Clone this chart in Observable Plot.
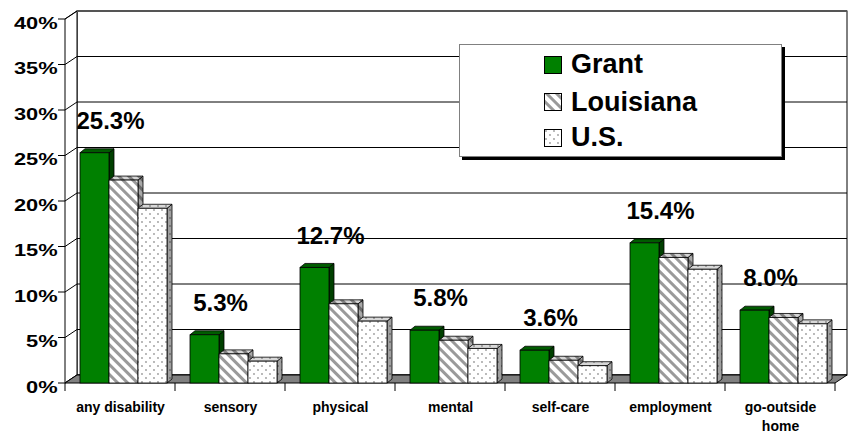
<!DOCTYPE html>
<html><head><meta charset="utf-8">
<script src="https://cdn.jsdelivr.net/npm/d3@7"></script>
<script src="https://cdn.jsdelivr.net/npm/@observablehq/plot@0.6"></script>
<style>
body{margin:0;background:#fff;font-family:Arial,"Liberation Sans",sans-serif;}
#wrap{position:relative;width:853px;height:433px;overflow:hidden;}
#legend{position:absolute;left:459px;top:44px;width:321px;height:111px;border:1px solid #808080;box-shadow:3px 3px 0 #000;background:#fff;}
.row{position:absolute;left:84px;height:30px;display:flex;align-items:center;font-weight:bold;font-size:27px;color:#000;white-space:nowrap;}
.row svg{margin-right:9px;flex:none;}
</style></head><body>
<svg width="0" height="0" style="position:absolute"><defs>
<pattern id="stripes" width="7" height="7" patternUnits="userSpaceOnUse" patternTransform="rotate(-45)"><rect width="7" height="7" fill="#fff"/><rect width="3" height="7" fill="#9a9a9a"/></pattern>
<pattern id="stripesTop" width="7" height="7" patternUnits="userSpaceOnUse" patternTransform="rotate(-45)"><rect width="7" height="7" fill="#d4d4d4"/><rect width="3" height="7" fill="#808080"/></pattern>
<pattern id="stripesSide" width="7" height="7" patternUnits="userSpaceOnUse" patternTransform="rotate(-45)"><rect width="7" height="7" fill="#a8a8a8"/><rect width="3" height="7" fill="#6a6a6a"/></pattern>
<pattern id="dots" width="8" height="8" patternUnits="userSpaceOnUse"><rect width="8" height="8" fill="#fff"/><circle cx="2" cy="2" r="0.9" fill="#9a9a9a"/><circle cx="6" cy="6" r="0.9" fill="#9a9a9a"/></pattern>
<pattern id="dotsTop" width="8" height="8" patternUnits="userSpaceOnUse"><rect width="8" height="8" fill="#d8d8d8"/><circle cx="2" cy="2" r="0.9" fill="#888"/><circle cx="6" cy="6" r="0.9" fill="#888"/></pattern>
<pattern id="dotsSide" width="8" height="8" patternUnits="userSpaceOnUse"><rect width="8" height="8" fill="#a0a0a0"/><circle cx="2" cy="2" r="0.9" fill="#666"/><circle cx="6" cy="6" r="0.9" fill="#666"/></pattern>
</defs></svg>
<div id="wrap"></div>
<script>
// ---- data ----
const categories = ["any disability", "sensory", "physical", "mental", "self-care", "employment", "go-outside home"];
const categoryTickLabels = ["any disability", "sensory", "physical", "mental", "self-care", "employment", "go-outside\nhome"];
const seriesNames = ["Grant", "Louisiana", "U.S."];
const grant = [25.3, 5.3, 12.7, 5.8, 3.6, 15.4, 8.0];
const louisiana = [22.3, 3.2, 8.7, 4.7, 2.5, 13.8, 7.2];
const us = [19.2, 2.4, 6.8, 3.8, 1.9, 12.5, 6.5];
const yTicks = [0, 5, 10, 15, 20, 25, 30, 35, 40];

// ---- styling ----
const W = 853, H = 433;
const DX = 12, DY = -8;     // wall depth
const BDX = 5, BDY = -4;    // bar depth
const styles = [
  {fill: "#008000", top: "#005c00", side: "#004000", insetLeft: 15, insetRight: 66},
  {fill: "url(#stripes)", top: "url(#stripesTop)", side: "url(#stripesSide)", insetLeft: 44, insetRight: 37},
  {fill: "url(#dots)", top: "url(#dotsTop)", side: "url(#dotsSide)", insetLeft: 73, insetRight: 8}
];
const seriesValues = [grant, louisiana, us];
const rows = vals => categories.map((c, i) => ({category: c, value: vals[i]}));
const pts = arr => arr.map(p => p.join(",")).join(" ");

function backdrop(index, scales, values, dim) {
  const {width, marginLeft, marginRight} = dim;
  const y = scales.y;
  const x0 = marginLeft, x1 = width - marginRight;
  const yb = y(yTicks[0]), yt = y(yTicks[yTicks.length - 1]);
  const g = d3.create("svg:g");
  g.append("rect").attr("x", x0 + DX).attr("y", yt + DY).attr("width", x1 - x0).attr("height", yb - yt)
    .attr("fill", "#fff").attr("stroke", "#000");
  g.append("polygon").attr("points", pts([[x0, yb], [x0, yt], [x0 + DX, yt + DY], [x0 + DX, yb + DY]]))
    .attr("fill", "#fff").attr("stroke", "#000");
  for (const t of yTicks) {
    g.append("line").attr("x1", x0 + DX).attr("x2", x1 + DX).attr("y1", y(t) + DY).attr("y2", y(t) + DY).attr("stroke", "#000");
    g.append("line").attr("x1", x0).attr("x2", x0 + DX).attr("y1", y(t)).attr("y2", y(t) + DY).attr("stroke", "#000");
    g.append("line").attr("x1", x0 - 7).attr("x2", x0).attr("y1", y(t)).attr("y2", y(t)).attr("stroke", "#000");
  }
  g.append("line").attr("x1", x0 + DX).attr("x2", x1 + DX).attr("y1", yt + DY).attr("y2", yt + DY).attr("stroke", "#555").attr("stroke-width", 2);
  g.append("polygon").attr("points", pts([[x0, yb], [x1, yb], [x1 + DX, yb + DY], [x0 + DX, yb + DY]]))
    .attr("fill", "#808080").attr("stroke", "#000");
  const xs = categories.map(c => scales.x(c)).concat([x1]);
  for (const xv of xs) {
    g.append("line").attr("x1", xv).attr("x2", xv).attr("y1", yb).attr("y2", yb + 8).attr("stroke", "#000");
  }
  return g.node();
}

function faces(k) {
  const s = styles[k], vals = seriesValues[k];
  return (index, scales, values, dim) => {
    const g = d3.create("svg:g");
    const bw = scales.x.bandwidth ? scales.x.bandwidth() : (dim.width - dim.marginLeft - dim.marginRight) / categories.length;
    categories.forEach((c, i) => {
      const xl = scales.x(c) + s.insetLeft, xr = scales.x(c) + bw - s.insetRight;
      const ytop = scales.y(vals[i]), ybase = scales.y(0);
      g.append("polygon").attr("points", pts([[xr, ytop], [xr + BDX, ytop + BDY], [xr + BDX, ybase + BDY], [xr, ybase]]))
        .attr("fill", s.side).attr("stroke", "#000").attr("stroke-width", 0.8);
      g.append("polygon").attr("points", pts([[xl, ytop], [xl + BDX, ytop + BDY], [xr + BDX, ytop + BDY], [xr, ytop]]))
        .attr("fill", s.top).attr("stroke", "#000").attr("stroke-width", 0.8);
    });
    return g.node();
  };
}

const marks = [backdrop];
seriesValues.forEach((vals, k) => {
  const s = styles[k];
  marks.push(faces(k));
  marks.push(Plot.barY(rows(vals), {x: "category", y: "value", fill: s.fill, stroke: "#000", strokeWidth: 0.8,
    insetLeft: s.insetLeft, insetRight: s.insetRight}));
});
marks.push(Plot.text(rows(grant), {x: "category", y: "value", text: d => d.value.toFixed(1) + "%",
  dy: -32, dx: -10, fontSize: 24, fontWeight: "bold", fill: "#000"}));
marks.push(Plot.text(yTicks, {y: d => d, frameAnchor: "left", textAnchor: "end", dx: -8, dy: 4,
  text: d => d + "%", fontSize: 16, fontWeight: "bold", fill: "#000"}));
marks.push(Plot.axisX({tickSize: 0, tickPadding: 16, fontSize: 14, fontWeight: "bold", lineHeight: 1.3,
  tickFormat: d => categoryTickLabels[categories.indexOf(d)], fill: "#000"}));

const chart = Plot.plot({
  width: W, height: H,
  marginLeft: 65, marginRight: 18, marginTop: 19, marginBottom: 50,
  x: {domain: categories, padding: 0, label: null},
  y: {domain: [0, 40], axis: null},
  style: {fontFamily: "Arial, 'Liberation Sans', sans-serif", background: "#fff", color: "#000", overflow: "visible"},
  marks
});
const wrap = document.getElementById("wrap");
wrap.appendChild(chart);

// widen the y tick labels horizontally, as in the reference
const yTickText = new Set(yTicks.map(d => d + "%"));
d3.select(chart).selectAll("text").each(function () {
  if (!yTickText.has(this.textContent.trim())) return;
  const L = this.getComputedTextLength();
  if (L > 0) {
    this.setAttribute("textLength", (L * 1.36).toFixed(1));
    this.setAttribute("lengthAdjust", "spacingAndGlyphs");
  }
});

// legend
const legend = document.createElement("div");
legend.id = "legend";
const rowTops = [4.5, 42, 77.5];
seriesNames.forEach((name, k) => {
  const row = document.createElement("div");
  row.className = "row";
  row.style.top = rowTops[k] + "px";
  row.innerHTML = `<svg width="18" height="18"><rect x="0.5" y="0.5" width="17" height="17" fill="${styles[k].fill}" stroke="#000"/></svg><span>${name}</span>`;
  legend.appendChild(row);
});
wrap.appendChild(legend);
</script>
</body></html>
